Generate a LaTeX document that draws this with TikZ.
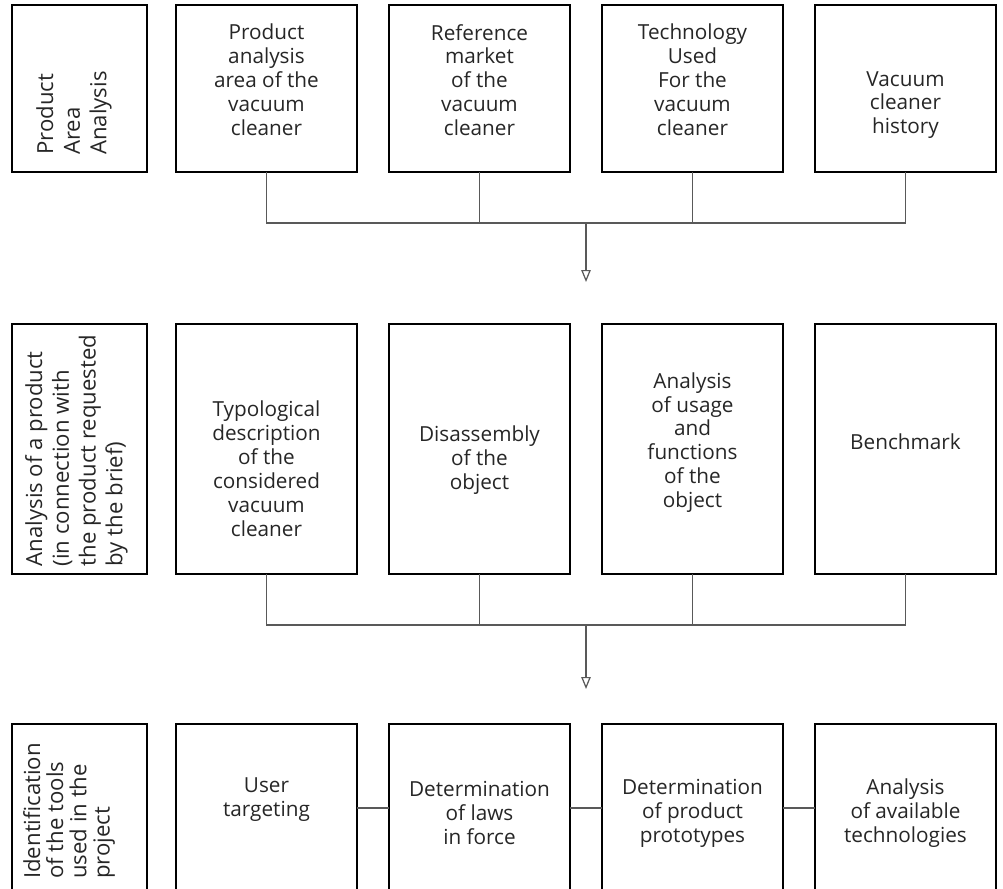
\documentclass[tikz,border=0pt]{standalone}
\usepackage{fontspec}
\setmainfont{Open Sans}
\usetikzlibrary{arrows.meta,positioning}

\begin{document}
\begin{tikzpicture}[thick,
        box/.style = {draw=black, line width=0.6pt, minimum width=3.62cm, outer sep=0pt},
        side/.style = {draw=black, line width=0.6pt, minimum width=2.7cm, outer sep=0pt},
        txt/.style = {align=center, text=black!85, font=\fontsize{11.8}{13.6}\selectfont, inner sep=0pt},
        vtxt/.style = {align=left, rotate=90, text=black!85, font=\fontsize{12.6}{#1}\selectfont, inner sep=0pt},
        link/.style = {draw=black!65, line width=0.7pt},
        tip/.style = {-{Triangle[open, width=0.19cm, length=0.24cm]}}]
        \useasboundingbox (0,0) rectangle (20.06,-17.78);

        % first row
        \node[side, minimum height=3.34cm] (s1) at (1.59,-1.77) {};
        \node[box, minimum height=3.34cm] (p1) at (5.33,-1.77) {};
        \node[box, minimum height=3.34cm] (p2) at (9.59,-1.77) {};
        \node[box, minimum height=3.34cm] (p3) at (13.85,-1.77) {};
        \node[box, minimum height=3.34cm] (p4) at (18.11,-1.77) {};
        \node[vtxt=15.2] (s1t) at (1.48,-2.26) {Product\\Area\\Analysis};
        \node[txt] (p1t) at (5.33,-1.60) {Product\\analysis\\area of the\\vacuum\\cleaner};
        \node[txt] (p2t) at (9.59,-1.60) {Reference\\market\\of the\\vacuum\\cleaner};
        \node[txt] (p3t) at (13.85,-1.60) {Technology\\Used\\For the\\vacuum\\cleaner};
        \node[txt] (p4t) at (18.11,-2.10) {Vacuum\\cleaner\\history};

        \coordinate (bus1) at (11.72,-4.46);
        \coordinate (end1) at (11.72,-5.64);
        \draw[link] (p1.south) |- (bus1) -| (p4.south);
        \draw[link] (p2.south) -- (p2.south |- bus1);
        \draw[link] (p3.south) -- (p3.south |- bus1);
        \draw[link, tip] (bus1) -- (end1);

        % second row
        \node[side, minimum height=5cm] (s2) at (1.59,-8.98) {};
        \node[box, minimum height=5cm] (q1) at (5.33,-8.98) {};
        \node[box, minimum height=5cm] (q2) at (9.59,-8.98) {};
        \node[box, minimum height=5cm] (q3) at (13.85,-8.98) {};
        \node[box, minimum height=5cm] (q4) at (18.11,-8.98) {};
        \node[vtxt=15.2] (s2t) at (1.53,-9.01) {Analysis of a product\\(in connection with\\the product requested\\by the brief)};
        \node[txt] (q1t) at (5.33,-9.37) {Typological\\description\\of the\\considered\\vacuum\\cleaner};
        \node[txt] (q2t) at (9.59,-9.20) {Disassembly\\of the\\object};
        \node[txt] (q3t) at (13.85,-8.85) {Analysis\\of usage\\and\\functions\\of the\\object};
        \node[txt] (q4t) at (18.11,-8.84) {Benchmark};

        \coordinate (bus2) at (11.72,-12.50);
        \coordinate (end2) at (11.72,-13.78);
        \draw[link] (q1.south) |- (bus2) -| (q4.south);
        \draw[link] (q2.south) -- (q2.south |- bus2);
        \draw[link] (q3.south) -- (q3.south |- bus2);
        \draw[link, tip] (bus2) -- (end2);

        % third row
        \node[side, minimum height=4.1cm] (s3) at (1.59,-16.53) {};
        \node[box, minimum height=4.1cm] (r1) at (5.33,-16.53) {};
        \node[box, minimum height=4.1cm] (r2) at (9.59,-16.53) {};
        \node[box, minimum height=4.1cm] (r3) at (13.85,-16.53) {};
        \node[box, minimum height=4.1cm] (r4) at (18.11,-16.53) {};
        \node[vtxt=13.2] (s3t) at (1.38,-16.22) {Identification\\of the tools\\used in the\\project};
        \node[txt] (r1t) at (5.33,-16.00) {User\\targeting};
        \node[txt] (r2t) at (9.59,-16.26) {Determination\\of laws\\in force};
        \node[txt] (r3t) at (13.85,-16.26) {Determination\\of product\\prototypes};
        \node[txt] (r4t) at (18.11,-16.26) {Analysis\\of available\\technologies};

        \draw[link] (r1.east |- 0,-16.16) -- (r2.west |- 0,-16.16);
        \draw[link] (r2.east |- 0,-16.16) -- (r3.west |- 0,-16.16);
        \draw[link] (r3.east |- 0,-16.16) -- (r4.west |- 0,-16.16);
    \end{tikzpicture}
\end{document}
